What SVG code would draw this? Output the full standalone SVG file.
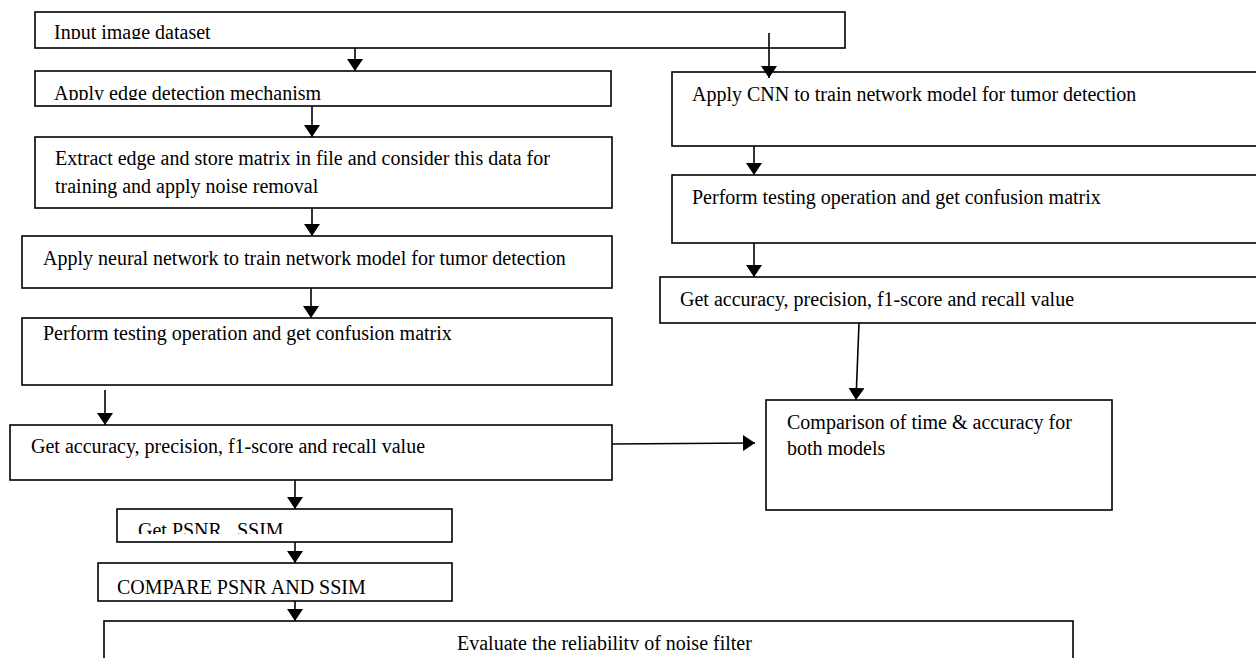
<svg xmlns="http://www.w3.org/2000/svg" width="1256" height="658" viewBox="0 0 1256 658">
<style>
.box{fill:#fff;stroke:#000;stroke-width:1.6}
.t{font-family:"Liberation Serif","Times New Roman",serif;font-size:20px;fill:#000}
.c{stroke:#000;stroke-width:1.6;fill:none}
</style>
<defs>
<marker id="ah" markerWidth="12" markerHeight="16" refX="12" refY="8" orient="auto" markerUnits="userSpaceOnUse" viewBox="0 0 12 16">
<path d="M0,0 L12,8 L0,16 z" fill="#000"/>
</marker>
<clipPath id="c1"><rect x="35" y="12" width="810" height="27"/></clipPath>
<clipPath id="c2"><rect x="35" y="71" width="576" height="29"/></clipPath>
<clipPath id="c7"><rect x="117" y="509" width="335" height="25"/></clipPath>
<clipPath id="c9"><rect x="104" y="621" width="969" height="29"/></clipPath>
</defs>
<rect width="1256" height="658" fill="#fff"/>
<g id="n1"><rect class="box" x="35" y="12" width="810" height="36"/><text class="t" x="54" y="39" clip-path="url(#c1)">Input image dataset</text></g>
<g id="n2"><rect class="box" x="35" y="71" width="576" height="35"/><text class="t" x="54" y="100" clip-path="url(#c2)">Apply edge detection mechanism</text></g>
<g id="n3"><rect class="box" x="35" y="137" width="577" height="71"/><text class="t" x="55" y="165">Extract edge and store matrix in file and consider this data for</text><text class="t" x="55" y="193">training and apply noise removal</text></g>
<g id="n4"><rect class="box" x="22" y="236" width="590" height="52"/><text class="t" x="43" y="265">Apply neural network to train network model for tumor detection</text></g>
<g id="n5"><rect class="box" x="22" y="318" width="590" height="67"/><text class="t" x="43" y="340">Perform testing operation and get confusion matrix</text></g>
<g id="n6"><rect class="box" x="10" y="425" width="602" height="55"/><text class="t" x="31" y="453">Get accuracy, precision, f1-score and recall value</text></g>
<g id="n7"><rect class="box" x="117" y="509" width="335" height="33"/><text class="t" x="138" y="537" clip-path="url(#c7)">Get PSNR , SSIM</text></g>
<g id="n8"><rect class="box" x="98" y="563" width="354" height="38"/><text class="t" x="117" y="594">COMPARE PSNR AND SSIM</text></g>
<g id="n9"><rect class="box" x="104" y="621" width="969" height="48"/><text class="t" x="457" y="650" clip-path="url(#c9)">Evaluate the reliability of noise filter</text></g>
<g id="r1"><rect class="box" x="672" y="72" width="600" height="74"/><text class="t" x="692" y="101">Apply CNN to train network model for tumor detection</text></g>
<g id="r2"><rect class="box" x="672" y="175" width="600" height="68"/><text class="t" x="692" y="204">Perform testing operation and get confusion matrix</text></g>
<g id="r3"><rect class="box" x="660" y="277" width="610" height="46"/><text class="t" x="680" y="306">Get accuracy, precision, f1-score and recall value</text></g>
<g id="r4"><rect class="box" x="766" y="400" width="346" height="110"/><text class="t" x="787" y="429">Comparison of time &amp; accuracy for</text><text class="t" x="787" y="455">both models</text></g>
<g id="connectors">
<line class="c" x1="355" y1="48" x2="355" y2="71" marker-end="url(#ah)"/>
<line class="c" x1="769" y1="33" x2="769" y2="78" marker-end="url(#ah)"/>
<line class="c" x1="312" y1="106" x2="312" y2="137" marker-end="url(#ah)"/>
<line class="c" x1="312" y1="208" x2="312" y2="236" marker-end="url(#ah)"/>
<line class="c" x1="311" y1="288" x2="311" y2="318" marker-end="url(#ah)"/>
<line class="c" x1="105" y1="390" x2="105" y2="425" marker-end="url(#ah)"/>
<line class="c" x1="612" y1="444" x2="755" y2="443" marker-end="url(#ah)"/>
<line class="c" x1="295" y1="480" x2="295" y2="509" marker-end="url(#ah)"/>
<line class="c" x1="295" y1="542" x2="295" y2="563" marker-end="url(#ah)"/>
<line class="c" x1="295" y1="601" x2="295" y2="621" marker-end="url(#ah)"/>
<line class="c" x1="754" y1="146" x2="754" y2="175" marker-end="url(#ah)"/>
<line class="c" x1="754" y1="243" x2="754" y2="277" marker-end="url(#ah)"/>
<line class="c" x1="859" y1="323" x2="856" y2="400" marker-end="url(#ah)"/>
</g>
</svg>
